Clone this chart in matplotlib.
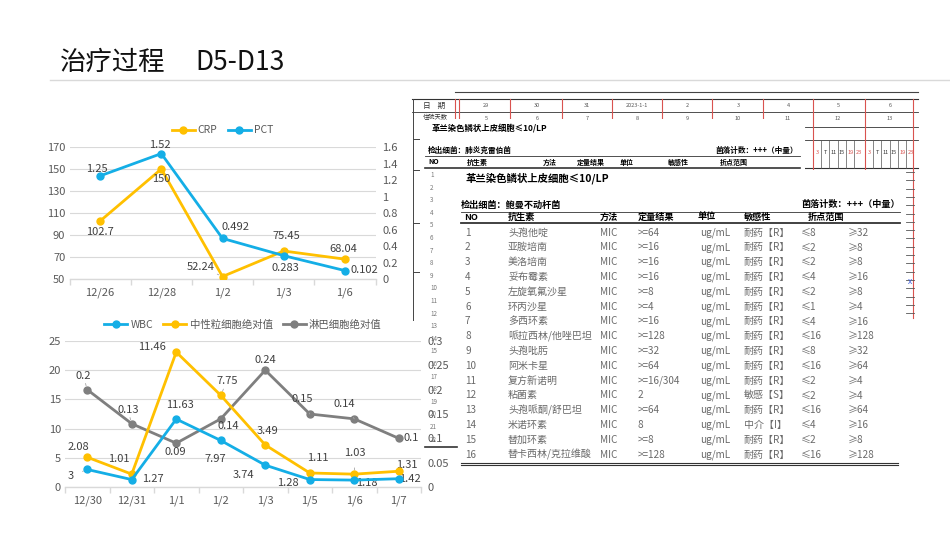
import numpy as np
import matplotlib
matplotlib.use("Agg")
import matplotlib.pyplot as plt
from matplotlib.patches import Rectangle

plt.rcParams['font.family'] = ['Noto Sans CJK SC', 'DejaVu Sans']

# ---- data: top chart ----
top_dates = ['12/26', '12/28', '1/2', '1/3', '1/6']
crp = [102.7, 150, 52.24, 75.45, 68.04]
pct = [1.25, 1.52, 0.492, 0.283, 0.102]
crp_labels = ['102.7', '150', '52.24', '75.45', '68.04']
pct_labels = ['1.25', '1.52', '0.492', '0.283', '0.102']

# ---- data: bottom chart ----
bot_dates = ['12/30', '12/31', '1/1', '1/2', '1/3', '1/5', '1/6', '1/7']
wbc = [3, 1.27, 11.63, 7.97, 3.74, 1.28, 1.18, 1.42]
neut = [5.1, 2.2, 23.1, 15.7, 7.2, 2.4, 2.2, 2.7]          # plotted heights
neut_labels = ['2.08', '1.01', '11.46', '7.75', '3.49', '1.11', '1.03', '1.31']
lymph = [0.2, 0.13, 0.09, 0.14, 0.24, 0.15, 0.14, 0.1]
wbc_labels = ['3', '1.27', '11.63', '7.97', '3.74', '1.28', '1.18', '1.42']
lymph_labels = ['0.2', '0.13', '0.09', '0.14', '0.24', '0.15', '0.14', '0.1']

# ---- data: susceptibility table ----
drugs = ['头孢他啶', '亚胺培南', '美洛培南', '妥布霉素', '左旋氧氟沙星', '环丙沙星', '多西环素',
         '哌拉西林/他唑巴坦', '头孢吡肟', '阿米卡星', '复方新诺明', '粘菌素', '头孢哌酮/舒巴坦',
         '米诺环素', '替加环素', '替卡西林/克拉维酸']
results = ['>=64', '>=16', '>=16', '>=16', '>=8', '>=4', '>=16', '>=128', '>=32', '>=64',
           '>=16/304', '2', '>=64', '8', '>=8', '>=128']
sens = ['耐药【R】'] * 11 + ['敏感【S】', '耐药【R】', '中介【I】', '耐药【R】', '耐药【R】']
bp_low = ['≤8', '≤2', '≤2', '≤4', '≤2', '≤1', '≤4', '≤16', '≤8', '≤16', '≤2', '≤2', '≤16',
          '≤4', '≤2', '≤16']
bp_high = ['≥32', '≥8', '≥8', '≥16', '≥8', '≥4', '≥16', '≥128', '≥32', '≥64', '≥4', '≥4',
           '≥64', '≥16', '≥8', '≥128']
day_dates = ['29', '30', '31', '2023-1-1', '2', '3', '4', '5', '6']
hosp_days = ['5', '6', '7', '8', '9', '10', '11', '12', '13']
hours = ['3', 'T', '11', '15', '19', '23']

ORANGE = '#FFC000'
BLUE = '#14AEE6'
GREY = '#7F7F7F'
TXT = '#595959'
GRID = '#D9D9D9'

W, H = 950, 535
fig = plt.figure(figsize=(9.5, 5.35), dpi=100)
bg = fig.add_axes([0, 0, 1, 1])
bg.set_xlim(0, W)
bg.set_ylim(H, 0)
bg.axis('off')


def px_axes(x0, y0, x1, y1):
    return fig.add_axes([x0 / W, 1 - y1 / H, (x1 - x0) / W, (y1 - y0) / H])


# title
bg.text(60, 62, '治疗过程', fontsize=19, va='center', ha='left', color='#111111')
bg.text(195, 62, 'D5-D13', fontsize=19, va='center', ha='left', color='#111111')
bg.plot([50, 950], [80, 80], color=GRID, lw=1)

# ---------------- scanned table (background sheet) ----------------
red = '#D9534F'
bg.plot([455, 918], [92, 92], color='#444444', lw=0.8)
bg.plot([412, 918], [99, 99], color='#333333', lw=0.8)
bg.plot([412, 918], [112, 112], color='#333333', lw=0.6)
bg.plot([805, 918], [127, 127], color='#333333', lw=0.6)
bg.plot([805, 918], [140, 140], color='#333333', lw=0.6)
bg.plot([805, 918], [168, 168], color='#333333', lw=0.8)
bg.plot([413, 413], [99, 320], color='#444444', lw=0.7)
for yy in [139, 170, 223, 272]:
    bg.plot([413, 420], [yy, yy], color='#444444', lw=0.7)
bg.text(423, 105.5, '日    期', fontsize=5.5, va='center', ha='left', color='#333333')
bg.text(423, 117, '住院天数', fontsize=4.5, va='center', ha='left', color='#333333')
col_x = [486, 537, 587, 637, 687, 738, 788, 838, 890]
for cx, d, h in zip(col_x, day_dates, hosp_days):
    bg.text(cx, 105.5, d, fontsize=4, ha='center', va='center', color='#555555')
    bg.text(cx, 119, h, fontsize=4, ha='center', va='center', color='#555555')
for vx in [455, 459, 510, 562, 612, 662, 712, 763]:
    bg.plot([vx, vx], [99, 127], color=red, lw=0.8)
for vx in [813, 865]:
    bg.plot([vx, vx], [99, 175], color=red, lw=0.8)
bg.plot([913, 913], [99, 318], color=red, lw=0.8)
# hour grid
for base in [813, 865]:
    for j, hname in enumerate(hours):
        hx = base + 4 + j * 8.3
        c = red if hname in ('19', '23', '3') else '#333333'
        bg.text(hx, 152, hname, fontsize=4, ha='center', va='center', color=c)
        if j > 0:
            bg.plot([hx - 4.2, hx - 4.2], [140, 168], color='#555555', lw=0.5)
for yy in np.arange(172, 318, 8.3):
    bg.plot([906, 914], [yy, yy], color='#555555', lw=0.6)
bg.text(910, 282, 'x', fontsize=6, color='#3B5BDB', ha='center', va='center')

# overlay 1 (first culture report)
bg.add_patch(Rectangle((420, 119), 385, 352, facecolor='white', edgecolor='none', zorder=2))
bg.text(432, 128, '革兰染色鳞状上皮细胞≤10/LP', fontsize=6, fontweight='bold', va='center', zorder=3)
bg.text(428, 150, '检出细菌：肺炎克雷伯菌', fontsize=5.5, fontweight='bold', va='center', zorder=3)
bg.text(798, 150, '菌落计数：+++（中量）', fontsize=5.5, fontweight='bold', va='center', ha='right', zorder=3)
bg.plot([425, 800], [156, 156], color='#333333', lw=0.6, zorder=3)
for hx, t in zip([428, 467, 543, 577, 620, 668, 720],
                 ['NO', '抗生素', '方法', '定量结果', '单位', '敏感性', '折点范围']):
    bg.text(hx, 162, t, fontsize=5, fontweight='bold', va='center', zorder=3)
bg.plot([425, 800], [168, 168], color='#333333', lw=1.2, zorder=3)
for i in range(22):
    bg.text(430, 175 + i * 12.6, str(i + 1), fontsize=4.5, color='#777777', va='center',
            ha='left', zorder=3)
bg.plot([425, 457], [447, 447], color='#333333', lw=1.2, zorder=3)

# overlay 2 (second culture report)
bg.add_patch(Rectangle((458, 170), 447, 302, facecolor='white', edgecolor='none', zorder=4))
bg.text(465, 178, '革兰染色鳞状上皮细胞≤10/LP', fontsize=7.5, fontweight='bold', va='center', zorder=5)
bg.text(461, 205, '检出细菌：鲍曼不动杆菌', fontsize=6.6, fontweight='bold', va='center', zorder=5)
bg.text(900, 205, '菌落计数：+++（中量）', fontsize=6.6, fontweight='bold', va='center', ha='right', zorder=5)
bg.plot([461, 900], [211.5, 211.5], color='#333333', lw=0.6, zorder=5)
for hx, t in zip([464, 508, 600, 638, 698, 744, 808],
                 ['NO', '抗生素', '方法', '定量结果', '单位', '敏感性', '折点范围']):
    bg.text(hx, 217, t, fontsize=6.6, fontweight='bold', va='center', zorder=5)
bg.plot([461, 900], [223, 223], color='#333333', lw=1.3, zorder=5)
row_col = '#6A6A6A'
for i in range(len(drugs)):
    ry = 232.5 + i * 14.8
    cells = [(465, str(i + 1)), (508, drugs[i]), (600, 'MIC'), (638, results[i]),
             (700, 'ug/mL'), (744, sens[i]), (801, bp_low[i]), (848, bp_high[i])]
    for hx, t in cells:
        bg.text(hx, ry, t, fontsize=7.2, color=row_col, va='center', ha='left', zorder=5)
bg.plot([461, 898], [462.5, 462.5], color='#333333', lw=0.8, zorder=5)
bg.plot([461, 898], [465, 465], color='#333333', lw=0.8, zorder=5)


def style_axes(ax, n):
    ax.set_facecolor('none')
    for s in ['top', 'left', 'right']:
        ax.spines[s].set_visible(False)
    ax.spines['bottom'].set_color(GRID)
    ax.spines['bottom'].set_linewidth(1)
    ax.set_xlim(-0.5, n - 0.5)
    ax.set_xticks(range(n))
    ax.set_xticks(np.arange(-0.5, n, 1), minor=True)
    ax.tick_params(axis='x', which='major', length=0, labelsize=8, labelcolor=TXT, pad=6)
    ax.tick_params(axis='x', which='minor', length=4, color=GRID, width=1)
    ax.tick_params(axis='y', length=0, labelsize=8, labelcolor=TXT)
    ax.grid(axis='y', color=GRID, lw=0.8)
    ax.set_axisbelow(True)


def labels(ax, xs, ys, texts, offsets, leaders=()):
    for k, (x, y, t, (dx, dy)) in enumerate(zip(xs, ys, texts, offsets)):
        arrow = None
        if k in leaders:
            arrow = dict(arrowstyle='-', color='#A6A6A6', lw=0.6, shrinkA=5, shrinkB=3)
        ax.annotate(t, (x, y), xytext=(dx * 0.72, dy * 0.72), textcoords='offset points',
                    ha='center', va='center', fontsize=8, color='#404040', zorder=6,
                    arrowprops=arrow)


# ---------------- top chart ----------------
ax1 = px_axes(69.5, 147, 375.5, 279)
style_axes(ax1, len(top_dates))
ax1.set_xticklabels(top_dates)
ax1.set_ylim(50, 170)
ax1.set_yticks(range(50, 171, 20))
ax1.tick_params(axis='y', pad=3)
xt = np.arange(len(top_dates))
ax1.plot(xt, crp, color=ORANGE, lw=2, marker='o', ms=5, zorder=3)
ax1r = ax1.twinx()
ax1r.set_facecolor('none')
for s in ax1r.spines.values():
    s.set_visible(False)
ax1r.set_ylim(0, 1.6)
ax1r.set_yticks(np.arange(0, 1.61, 0.2))
ax1r.set_yticklabels(['0', '0.2', '0.4', '0.6', '0.8', '1', '1.2', '1.4', '1.6'])
ax1r.tick_params(axis='y', length=0, labelsize=8, labelcolor=TXT, pad=5)
ax1r.plot(xt, pct, color=BLUE, lw=2, marker='o', ms=5, zorder=3)
labels(ax1, xt, crp, crp_labels, [(0, -11), (0, -10), (-22, 10), (3, 15), (-2, 10)],
       leaders=(2, 3))
labels(ax1r, xt, pct, pct_labels, [(-3, 7), (-1, 9), (13, 11), (2, -12), (19, 1)])
ax1.plot([], [], color=ORANGE, lw=2, marker='o', ms=5, label='CRP')
ax1.plot([], [], color=BLUE, lw=2, marker='o', ms=5, label='PCT')
ax1.legend(loc='lower center', bbox_to_anchor=(0.5, 1.017), ncol=2, frameon=False, fontsize=7.5,
           handlelength=2.2, handletextpad=0.3, columnspacing=1.0, labelcolor=TXT)

# ---------------- bottom chart ----------------
ax2 = px_axes(65, 341, 421, 487)
style_axes(ax2, len(bot_dates))
ax2.set_xticklabels(bot_dates)
ax2.set_ylim(0, 25)
ax2.set_yticks(range(0, 26, 5))
ax2.tick_params(axis='y', pad=3)
xb = np.arange(len(bot_dates))
ax2r = ax2.twinx()
ax2r.set_facecolor('none')
for s in ax2r.spines.values():
    s.set_visible(False)
ax2r.set_ylim(0, 0.3)
ax2r.set_yticks(np.arange(0, 0.301, 0.05))
ax2r.set_yticklabels(['0', '0.05', '0.1', '0.15', '0.2', '0.25', '0.3'])
ax2r.tick_params(axis='y', length=0, labelsize=8, labelcolor=TXT, pad=5)
ax2r.plot(xb, lymph, color=GREY, lw=2, marker='o', ms=5, zorder=2)
ax2r.plot(xb, np.array(neut) / 25 * 0.3, color=ORANGE, lw=2, marker='o', ms=5, zorder=3)
ax2r.plot(xb, np.array(wbc) / 25 * 0.3, color=BLUE, lw=2, marker='o', ms=5, zorder=4)
labels(ax2, xb, wbc, wbc_labels,
       [(-17, -7), (21, 1), (4, 14), (-5, -19), (-22, -10), (-22, -3), (13, -3), (11, 0)],
       leaders=(0, 4, 5))
labels(ax2, xb, neut, neut_labels,
       [(-9, 10), (-13, 15), (-24, 5), (6, 14), (2, 14), (8, 15), (1, 21), (8, 6)],
       leaders=(1, 2, 3, 5, 6))
labels(ax2r, xb, lymph, lymph_labels,
       [(-4, 14), (-4, 14), (-1, -9), (8, -7), (0, 10), (-7, 15), (-10, 15), (12, 0)],
       leaders=(0, 1, 5, 6))
ax2.plot([], [], color=BLUE, lw=2, marker='o', ms=5, label='WBC')
ax2.plot([], [], color=ORANGE, lw=2, marker='o', ms=5, label='中性粒细胞绝对值')
ax2.plot([], [], color=GREY, lw=2, marker='o', ms=5, label='淋巴细胞绝对值')
ax2.legend(loc='lower center', bbox_to_anchor=(0.5, 1.013), ncol=3, frameon=False, fontsize=7.5,
           handlelength=2.2, handletextpad=0.3, columnspacing=1.0, labelcolor=TXT)

fig.savefig('out.png', dpi=100)
